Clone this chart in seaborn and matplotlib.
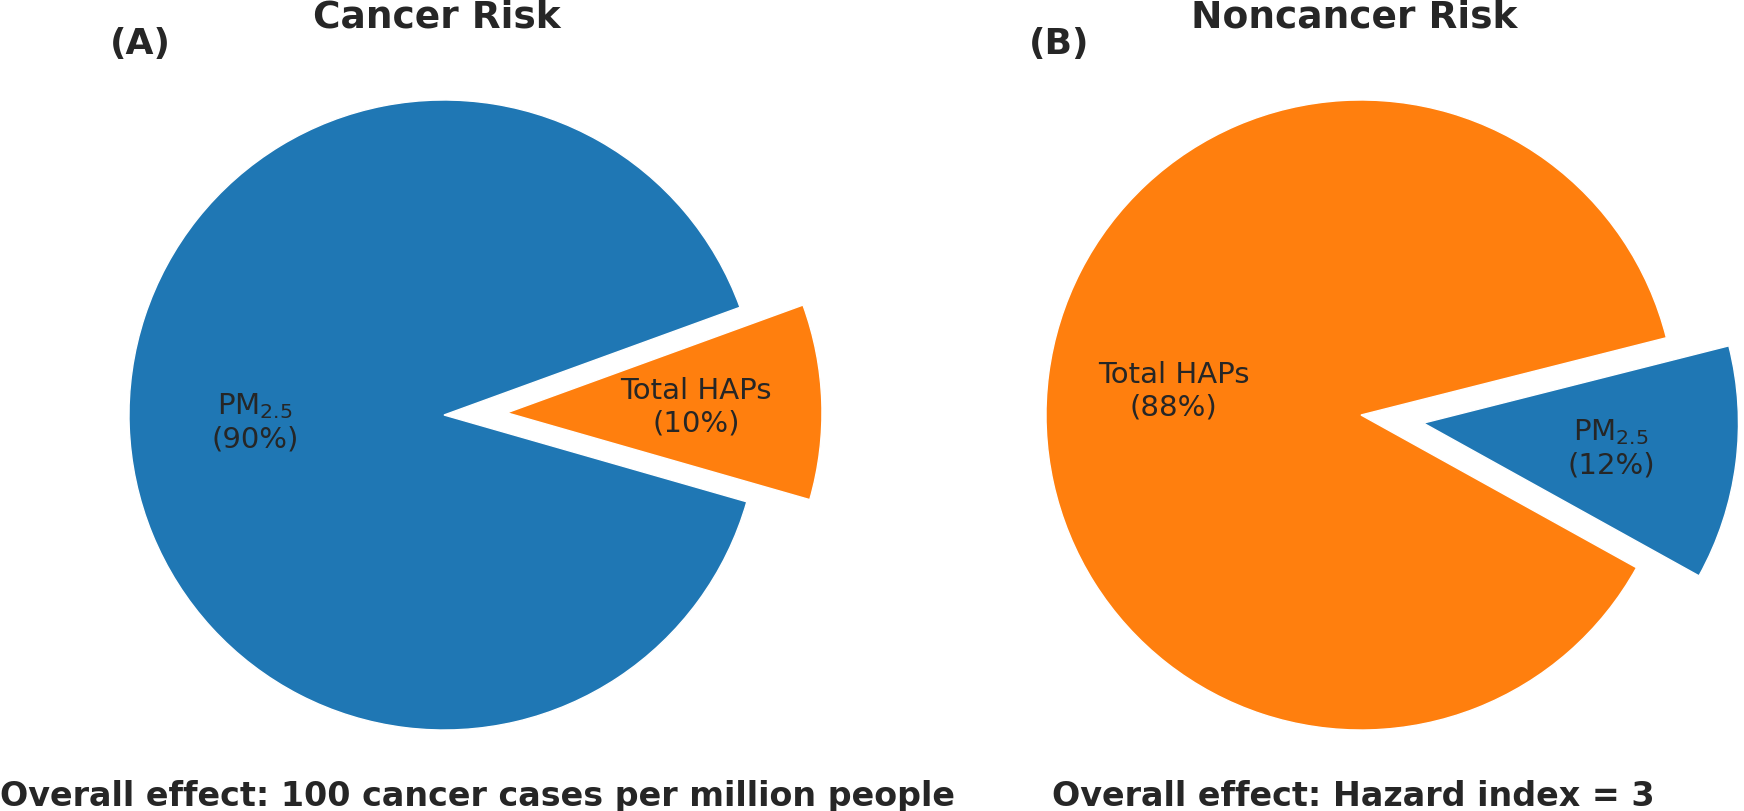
import matplotlib
matplotlib.use("Agg")
import matplotlib.pyplot as plt
import seaborn as sns

# ---- Data ----
sources = ["PM$_{2.5}$", "Total HAPs"]
cancer_share = [90, 10]
noncancer_share = [12, 88]
panel_titles = ["Cancer Risk", "Noncancer Risk"]
panel_tags = ["(A)", "(B)"]
overall_text = ["Overall effect: 100 cancer cases per million people",
                "Overall effect: Hazard index = 3"]

sns.set_theme(style="white")
plt.rcParams['font.family'] = ['DejaVu Sans']
colors = sns.color_palette("tab10", 2)


def make_autopct(names):
    it = iter(names)

    def fmt(pct):
        return f"{next(it)}\n({pct:.0f}%)"
    return fmt


W, H = 1744, 812
fig = plt.figure(figsize=(W / 100, H / 100), dpi=100)

# pie centres / radius in pixels
centres = [(444, 396), (1361, 396)]
radius = 315
side = 2.5 * radius

panels = [
    (cancer_share, [0, 0.2], 20),
    (noncancer_share, [0.2, 0], -29),
]

for i, (vals, expl, start) in enumerate(panels):
    cx, cy = centres[i]
    ax = fig.add_axes([(cx - side / 2) / W, (cy - side / 2) / H, side / W, side / H])
    ax.pie(vals, explode=expl, colors=colors, startangle=start,
           autopct=make_autopct(sources), pctdistance=0.6,
           textprops={"fontsize": 21, "color": ".15"})
    ax.set_xlim(-1.25, 1.25)
    ax.set_ylim(-1.25, 1.25)
    ax.set_aspect("equal")

# ---- Titles and notes ----
fig.text(437 / W, 1 - 28 / H, panel_titles[0], ha="center", va="baseline",
         fontsize=27, fontweight="bold", color=".15")
fig.text(1354 / W, 1 - 28 / H, panel_titles[1], ha="center", va="baseline",
         fontsize=27, fontweight="bold", color=".15")
fig.text(140 / W, 1 - 44 / H, panel_tags[0], ha="center", va="center",
         fontsize=26, fontweight="bold", color=".15")
fig.text(1059 / W, 1 - 44 / H, panel_tags[1], ha="center", va="center",
         fontsize=26, fontweight="bold", color=".15")
fig.text(477 / W, 1 - 806 / H, overall_text[0], ha="center", va="baseline",
         fontsize=24, fontweight="bold", color=".15")
fig.text(1353 / W, 1 - 806 / H, overall_text[1], ha="center", va="baseline",
         fontsize=24, fontweight="bold", color=".15")

fig.savefig("out.png", dpi=100)
